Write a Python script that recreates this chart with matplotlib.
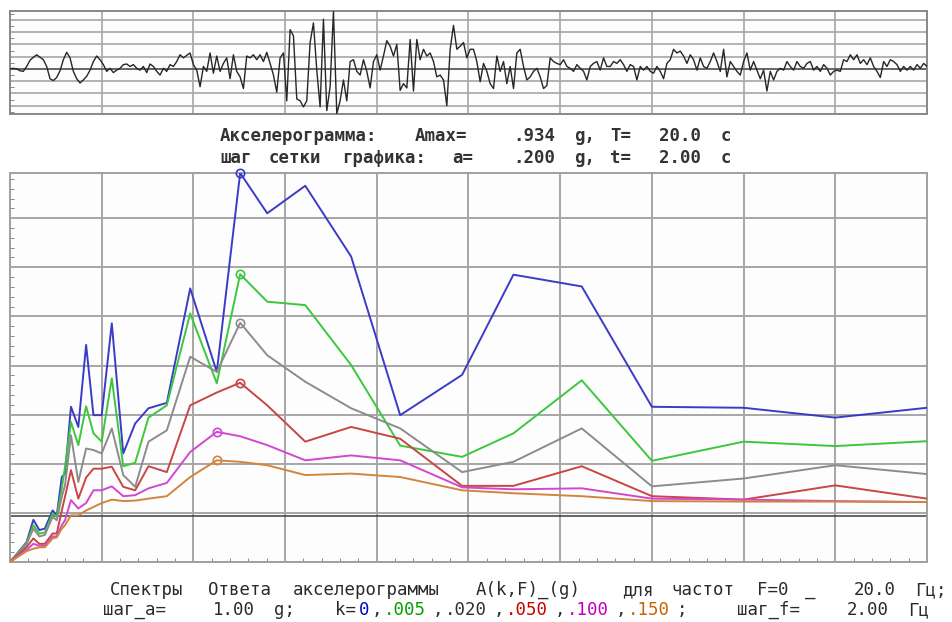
import numpy as np
import matplotlib
matplotlib.use("Agg")
import matplotlib.pyplot as plt
from matplotlib.ticker import MultipleLocator

# ---------------- data ----------------
record_length_s = 20.0
accel_g = [
    0.00, 0.01, 0.00, -0.03, -0.04, 0.04, 0.14, 0.19, 0.23, 0.19, 0.15, 0.04, -0.16, -0.19, -0.14, -0.03,
    0.15, 0.27, 0.18, -0.04, -0.16, -0.23, -0.18, -0.12, -0.02, 0.12, 0.21, 0.15, 0.07, -0.04, 0.01, -0.06,
    -0.02, 0.01, 0.07, 0.08, 0.04, 0.07, 0.01, -0.02, 0.04, -0.06, 0.08, 0.04, -0.04, -0.10, 0.01, -0.04,
    0.07, 0.04, 0.12, 0.23, 0.18, 0.22, 0.26, 0.07, -0.02, -0.29, 0.04, -0.04, 0.26, -0.07, 0.21, -0.04,
    0.09, 0.18, -0.16, 0.23, -0.04, -0.13, -0.32, 0.21, 0.18, 0.23, 0.15, 0.23, 0.12, 0.27, 0.09, -0.10,
    -0.38, 0.18, 0.26, -0.52, 0.64, 0.54, -0.49, -0.52, -0.62, -0.52, 0.43, 0.75, -0.02, -0.62, 0.81, -0.68,
    -0.29, 0.934, -0.73, -0.52, -0.18, -0.52, 0.12, 0.15, -0.04, -0.10, 0.15, -0.04, -0.31, 0.12, 0.23, -0.02,
    0.21, 0.46, 0.37, 0.21, 0.40, -0.35, -0.24, -0.31, 0.48, -0.36, 0.48, 0.15, 0.32, 0.21, 0.26, 0.12,
    -0.13, -0.10, -0.18, -0.60, 0.32, 0.71, 0.32, 0.37, 0.43, 0.18, 0.32,
    0.32, 0.12, -0.21, 0.09, -0.04, -0.24, -0.32, 0.21, -0.04, 0.12, -0.24, 0.04, -0.32, 0.26, 0.32, 0.04,
    -0.18, -0.13, -0.04, 0.01, -0.13, -0.32, -0.27, 0.18, 0.12, 0.09, 0.07, 0.15, 0.04, 0.01, -0.04, 0.07,
    0.01, -0.04, -0.18, 0.04, 0.09, 0.12, -0.02, 0.18, 0.04, 0.04, 0.12, 0.09, 0.15, 0.07, -0.04, 0.07,
    0.04, -0.18, 0.04, -0.02, 0.04, -0.04, -0.07, 0.04, -0.04, -0.16, 0.09, 0.15, 0.32, 0.26, 0.29, 0.21,
    0.09, 0.23, 0.15, -0.02, 0.18, 0.04, 0.01, 0.12, 0.26, 0.12, -0.04, 0.32, -0.13, 0.12, 0.04, -0.04,
    -0.10, 0.12, 0.26, -0.02, 0.12, -0.02, -0.16, -0.02, -0.36, -0.04, -0.18, -0.04, 0.01, -0.02, 0.12, 0.04,
    -0.02, 0.12, 0.04, 0.01, 0.09, 0.12, -0.02, 0.04, -0.04, 0.07, 0.01, -0.10, -0.04, -0.02, -0.04, 0.15,
    0.12, 0.23, 0.15, 0.23, 0.09, 0.15, 0.07, 0.18, 0.04, -0.04, -0.14, 0.12, 0.04, 0.15, 0.12, 0.07,
    -0.04, 0.04, -0.02, 0.04, -0.02, 0.07, 0.01, 0.09, 0.04,
]

freq_hz = [0.0, 0.36, 0.51, 0.64, 0.76, 0.93, 1.02, 1.13, 1.20, 1.33, 1.49, 1.66, 1.82, 2.00, 2.22, 2.47,
           2.73, 3.02, 3.42, 3.93, 4.51, 5.02, 5.61, 6.44, 7.44, 8.51, 9.86, 10.98, 12.47, 14.0, 16.0, 18.0, 20.0]
sa_k000 = [0, 0.40, 0.86, 0.65, 0.68, 1.05, 0.95, 1.73, 1.80, 3.16, 2.75, 4.42, 2.99, 2.99, 4.86, 2.21,
           2.82, 3.13, 3.24, 5.57, 3.87, 7.92, 7.10, 7.66, 6.22, 2.99, 3.81, 5.85, 5.61, 3.16, 3.14, 2.94, 3.14]
sa_k005 = [0, 0.38, 0.75, 0.58, 0.60, 0.99, 0.92, 1.50, 1.94, 2.85, 2.38, 3.17, 2.62, 2.45, 3.74, 1.95,
           2.02, 2.94, 3.19, 5.06, 3.64, 5.86, 5.30, 5.23, 4.01, 2.37, 2.14, 2.62, 3.70, 2.06, 2.45, 2.36, 2.46]
sa_k020 = [0, 0.36, 0.68, 0.52, 0.55, 0.92, 0.85, 1.33, 1.56, 2.58, 1.63, 2.31, 2.28, 2.21, 2.72, 1.77,
           1.53, 2.45, 2.68, 4.18, 3.87, 4.87, 4.21, 3.67, 3.13, 2.72, 1.83, 2.04, 2.72, 1.54, 1.70, 1.97, 1.79]
sa_k050 = [0, 0.30, 0.48, 0.37, 0.37, 0.58, 0.58, 1.05, 1.33, 1.87, 1.29, 1.72, 1.90, 1.90, 1.94, 1.53,
           1.46, 1.95, 1.83, 3.19, 3.45, 3.65, 3.19, 2.45, 2.75, 2.51, 1.55, 1.55, 1.95, 1.34, 1.27, 1.56, 1.29]
sa_k100 = [0, 0.25, 0.37, 0.33, 0.33, 0.52, 0.52, 0.75, 0.85, 1.26, 1.09, 1.20, 1.46, 1.46, 1.54, 1.34,
           1.36, 1.50, 1.61, 2.24, 2.65, 2.56, 2.38, 2.07, 2.17, 2.07, 1.52, 1.48, 1.50, 1.29, 1.27, 1.24, 1.22]
sa_k150 = [0, 0.22, 0.27, 0.30, 0.30, 0.48, 0.50, 0.68, 0.75, 0.95, 0.95, 1.05, 1.12, 1.20, 1.27, 1.24,
           1.25, 1.29, 1.34, 1.73, 2.07, 2.04, 1.97, 1.77, 1.80, 1.73, 1.46, 1.40, 1.34, 1.24, 1.23, 1.23, 1.22]

damping_labels = ["0", ".005", ".020", ".050", ".100", ".150"]
series = [sa_k000, sa_k005, sa_k020, sa_k050, sa_k100, sa_k150]
line_colors = ["#3b3bc8", "#3cc83c", "#8c8c8c", "#c84646", "#d247d2", "#d2853c"]
label_colors = ["#0000c8", "#00a000", "#303030", "#c80000", "#c000c0", "#c86400"]

accel_grid_g = 0.2
accel_grid_s = 2.0
spec_grid_g = 1.0
spec_grid_hz = 2.0
f_max = 20.0

# ---------------- figure ----------------
W, H = 953, 622
fig = plt.figure(figsize=(W / 100, H / 100), dpi=100, facecolor="white")


def px_axes(l, t, r, b):
    return fig.add_axes([l / W, 1 - b / H, (r - l) / W, (b - t) / H])


grid_col = "#a6a6a6"
mono = ["DejaVu Sans Mono"]

# accelerogram panel
acc = np.array(accel_g)
amax = float(np.max(np.abs(acc)))
t = np.linspace(0, record_length_s, len(acc))
ax1 = px_axes(10, 11, 927, 114)
ax1.set_facecolor("#fdfdfd")
ax1.plot(t, acc, color="#262626", lw=1.0, zorder=3)
ax1.set_xlim(0, record_length_s)
ax1.set_ylim(acc.min() - 0.005, acc.max() + 0.01)
ax1.set_xticks(np.arange(0, record_length_s + 0.01, accel_grid_s))
ax1.set_yticks(np.arange(-0.6, 0.81, accel_grid_g))
ax1.grid(True, color=grid_col, lw=1.2)
ax1.axhline(0, color="#5a5a5a", lw=1.2, zorder=2)
ax1.yaxis.set_minor_locator(MultipleLocator(0.1))
ax1.tick_params(which="major", length=0, labelleft=False, labelbottom=False)
ax1.tick_params(which="minor", direction="in", length=3, color="#777777")
for s in ax1.spines.values():
    s.set_color("#888888")
    s.set_linewidth(1.4)

# spectra panel
ax2 = px_axes(10, 173, 927, 562)
ax2.set_facecolor("#fdfdfd")
ax2.set_xlim(0, f_max)
ax2.set_ylim(0, max(max(s) for s in series))
ax2.set_xticks(np.arange(0, f_max + 0.01, spec_grid_hz))
ax2.set_yticks(np.arange(0, 8, spec_grid_g))
ax2.grid(True, color=grid_col, lw=1.4)
ax2.axhline(amax, color="#3c3c3c", lw=1.1, zorder=2)
ax2.xaxis.set_minor_locator(MultipleLocator(0.4))
ax2.yaxis.set_minor_locator(MultipleLocator(0.2))
ax2.tick_params(which="major", length=0, labelleft=False, labelbottom=False)
ax2.tick_params(which="minor", direction="in", length=3, color="#777777")
for s in ax2.spines.values():
    s.set_color("#a0a0a0")
    s.set_linewidth(1.4)

for vals, col in zip(series, line_colors):
    v = np.array(vals)
    ax2.plot(freq_hz, v, color=col, lw=1.4, zorder=4)
    i = int(np.argmax(v))
    ax2.plot([freq_hz[i]], [v[i]], "o", mfc="none", mec=col, ms=6, mew=1.2,
             zorder=5, clip_on=False)

# ---------------- texts ----------------
# the original uses a wide fixed-pitch font (about 12.2 px per character):
# every word is placed on that character grid.
pitch = 12.2


def put_grid(x0, ypx, segments, fs, weight="normal"):
    idx = 0
    for txt, col in segments:
        run, start = "", idx
        for ch in txt + " ":
            if ch == " ":
                if run:
                    fig.text((x0 + start * pitch) / W, 1 - ypx / H, run, fontsize=fs,
                             family=mono, color=col, weight=weight, ha="left", va="center")
                run = ""
                start = idx + 1
            else:
                if not run:
                    start = idx
                run += ch
            idx += 1
        idx -= 1  # the sentinel space is not part of the line


amax_txt = f"{amax:.3f}".lstrip("0")
put_grid(220, 136, [(f"Акселерограмма: Amax=   {amax_txt} g, T=  {record_length_s:.1f} c", "#333333")],
         12.5, "bold")
put_grid(220, 158, [(f"шаг сетки графика: a=   .{int(round(accel_grid_g*1000)):03d} g, t=  {accel_grid_s:.2f} c",
                     "#333333")], 12.5, "bold")

put_grid(110, 590, [(f"Спектры Ответа акселерограммы A(k,F)_(g)  для частот F=0 _   {f_max:.1f} Гц;",
                     "#2a2a2a")], 12.5)

segs = [(f"шаг_a=   {spec_grid_g:.2f} g;   k=", "#2a2a2a")]
for i, (lab, col) in enumerate(zip(damping_labels, label_colors)):
    segs.append((lab, col))
    segs.append(("," if i < len(damping_labels) - 1 else ";", "#2a2a2a"))
segs.append((f"    шаг_f=   {spec_grid_hz:.2f} Гц", "#2a2a2a"))
put_grid(103, 610, segs, 12.5)

fig.savefig("out.png", dpi=100, facecolor="white")
